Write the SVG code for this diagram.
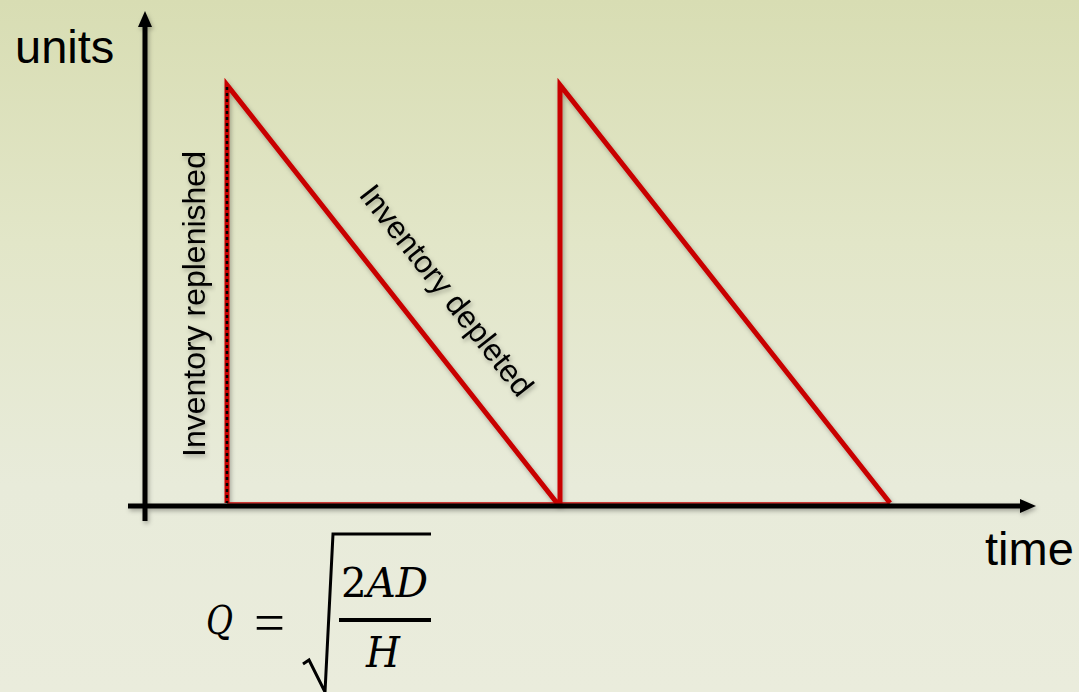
<svg xmlns="http://www.w3.org/2000/svg" width="1079" height="692" viewBox="0 0 1079 692">
  <defs>
    <linearGradient id="bg" x1="0" y1="0" x2="0" y2="1">
      <stop offset="0" stop-color="#d8ddb3"/>
      <stop offset="0.35" stop-color="#e2e6c8"/>
      <stop offset="0.7" stop-color="#e8ebda"/>
      <stop offset="1" stop-color="#eaecdc"/>
    </linearGradient>
    <filter id="sh" x="-10%" y="-10%" width="120%" height="120%">
      <feDropShadow dx="1.5" dy="2.5" stdDeviation="2" flood-color="#000" flood-opacity="0.3"/>
    </filter>
    <marker id="arr" viewBox="0 0 16 14" refX="2" refY="7" markerWidth="16" markerHeight="14" markerUnits="userSpaceOnUse" orient="auto">
      <path d="M0,0 L16,7 L0,14 Z" fill="#000"/>
    </marker>
    <style>
      .lbl { font-family: "Liberation Sans", Arial, sans-serif; fill: #000; }
      .math { font-family: "DejaVu Serif", "Liberation Serif", serif; fill: #000; }
      .red { fill: none; stroke: #c80000; stroke-width: 5; stroke-linejoin: miter; }
      .axis { fill: none; stroke: #000; stroke-width: 5; }
    </style>
  </defs>
  <rect x="0" y="0" width="1079" height="692" fill="url(#bg)"/>

  <g id="curve" filter="url(#sh)">
    <polyline class="red" points="227,503 227,85 557,503 560,503 560,85 890,503"/>
    <line x1="227" y1="503" x2="890" y2="503" stroke="#c80000" stroke-width="1.5"/>
    <line x1="227" y1="87" x2="227" y2="503" stroke="#000" stroke-width="2.5" stroke-dasharray="3,3"/>
  </g>

  <g id="connectors" filter="url(#sh)">
    <line class="axis" x1="145" y1="521" x2="145" y2="25" marker-end="url(#arr)"/>
    <line class="axis" x1="128" y1="506" x2="1022" y2="506" marker-end="url(#arr)"/>
  </g>

  <g id="axis-labels">
    <text class="lbl" x="15" y="63" font-size="47">units</text>
    <text class="lbl" x="985" y="565" font-size="47">time</text>
  </g>

  <g id="label-replenished" filter="url(#sh)">
    <text class="lbl" font-size="32" transform="translate(205,457) rotate(-90)">Inventory replenished</text>
  </g>
  <g id="label-depleted" filter="url(#sh)">
    <text class="lbl" font-size="31.5" transform="translate(358,195) rotate(51.8)">Inventory depleted</text>
  </g>

  <g id="formula">
    <text class="math" x="206" y="634" font-size="40" font-style="italic" textLength="27" lengthAdjust="spacingAndGlyphs">Q</text>
    <text x="254" y="641" font-family="Liberation Serif, serif" font-size="54" textLength="31" lengthAdjust="spacingAndGlyphs">=</text>
    <path d="M303,664 L309,660 L325,692 L333,534 L431,534" fill="none" stroke="#000" stroke-width="3"/>
    <text class="math" x="341" y="597" font-size="41" textLength="87" lengthAdjust="spacingAndGlyphs"><tspan>2</tspan><tspan font-style="italic">AD</tspan></text>
    <line x1="339" y1="620" x2="431" y2="620" stroke="#000" stroke-width="4"/>
    <text class="math" x="366" y="667" font-size="43" font-style="italic" textLength="34" lengthAdjust="spacingAndGlyphs">H</text>
  </g>
</svg>
